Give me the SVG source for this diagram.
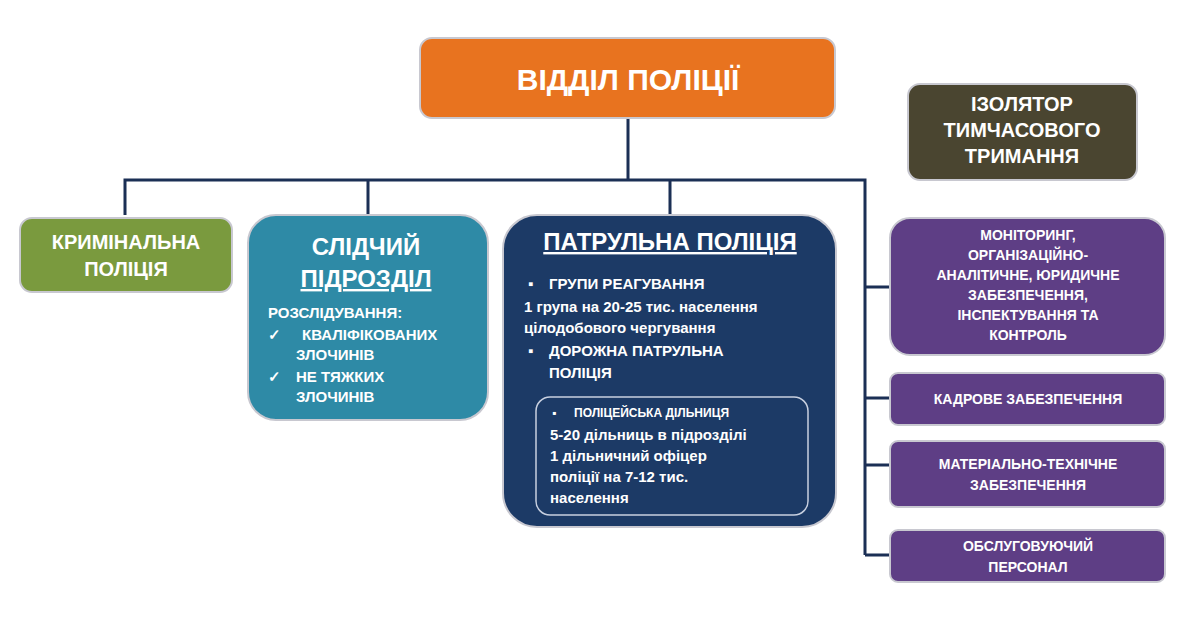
<svg xmlns="http://www.w3.org/2000/svg" width="1200" height="630" viewBox="0 0 1200 630">
<style>
text{font-family:"Liberation Sans",Arial,sans-serif;font-weight:bold;fill:#fff}
.c{text-anchor:middle}
.box{stroke:#c8c8d0;stroke-width:2}
.purple{fill:#5e3e85}
.ln{stroke:#1b2f55;stroke-width:3;fill:none}
</style>
<rect width="1200" height="630" fill="#fff"/>
<g id="connectors">
<path class="ln" d="M628 118V180M125 215V180H865V555M368 180V215M670 180V215M865 287H890M865 398H890M865 465H890M865 555H890"/>
</g>
<g id="top"><rect class="box" x="420" y="38" width="415" height="80" rx="12" fill="#e8731f"/>
<text class="c" x="628" y="90" font-size="30">ВІДДІЛ   ПОЛІЦІЇ</text></g>
<g id="krym"><rect class="box" x="20" y="218" width="212" height="74" rx="12" fill="#7a9a3e"/>
<text class="c" x="126" y="249" font-size="20">КРИМІНАЛЬНА</text><text class="c" x="126" y="276" font-size="20">ПОЛІЦІЯ</text></g>
<g id="slid"><rect class="box" x="248" y="215" width="240" height="205" rx="28" fill="#2e8aa6"/>
<text class="c" x="366" y="255" font-size="24">СЛІДЧИЙ</text>
<text class="c" x="366" y="287" font-size="24" text-decoration="underline">ПІДРОЗДІЛ</text>
<text x="268" y="318" font-size="15" font-weight="normal">РОЗСЛІДУВАННЯ:</text>
<text x="268" y="340" font-size="15" font-weight="normal">✓</text><text x="302" y="340" font-size="15" font-weight="normal">КВАЛІФІКОВАНИХ</text>
<text x="296" y="360" font-size="15" font-weight="normal">ЗЛОЧИНІВ</text>
<text x="268" y="382" font-size="15" font-weight="normal">✓</text><text x="296" y="382" font-size="15" font-weight="normal">НЕ ТЯЖКИХ</text>
<text x="296" y="402" font-size="15" font-weight="normal">ЗЛОЧИНІВ</text></g>
<g id="patrul"><rect class="box" x="503" y="215" width="333" height="312" rx="34" fill="#1c3a66"/>
<text class="c" x="670" y="250" font-size="24" text-decoration="underline">ПАТРУЛЬНА  ПОЛІЦІЯ</text>
<text x="528" y="289" font-size="15">▪</text><text x="549" y="289" font-size="15">ГРУПИ РЕАГУВАННЯ</text>
<text x="524" y="312" font-size="15">1 група на 20-25 тис. населення</text>
<text x="524" y="333" font-size="15">цілодобового чергування</text>
<text x="528" y="356" font-size="15">▪</text><text x="549" y="356" font-size="15">ДОРОЖНА ПАТРУЛЬНА</text>
<text x="549" y="378" font-size="15">ПОЛІЦІЯ</text>
<rect x="536" y="397" width="272" height="118" rx="14" fill="none" stroke="#c8d0e0" stroke-width="1.5"/>
<text x="552" y="417" font-size="12">▪</text><text x="574" y="417" font-size="12">ПОЛІЦЕЙСЬКА  ДІЛЬНИЦЯ</text>
<text x="550" y="440" font-size="15">5-20 дільниць в підрозділі</text>
<text x="550" y="461" font-size="15">1 дільничний офіцер</text>
<text x="550" y="482" font-size="15">поліції на 7-12 тис.</text>
<text x="550" y="503" font-size="15">населення</text></g>
<g id="izol"><rect class="box" x="908" y="84" width="229" height="96" rx="12" fill="#4a4530"/>
<text class="c" x="1022" y="111" font-size="20">ІЗОЛЯТОР</text><text class="c" x="1022" y="137" font-size="20">ТИМЧАСОВОГО</text><text class="c" x="1022" y="163" font-size="20">ТРИМАННЯ</text></g>
<g id="monitor"><rect class="box purple" x="890" y="218" width="275" height="137" rx="20"/>
<g font-size="14"><text class="c" x="1028" y="240">МОНІТОРИНГ,</text><text class="c" x="1028" y="260">ОРГАНІЗАЦІЙНО-</text><text class="c" x="1028" y="280">АНАЛІТИЧНЕ, ЮРИДИЧНЕ</text><text class="c" x="1028" y="300">ЗАБЕЗПЕЧЕННЯ,</text><text class="c" x="1028" y="320">ІНСПЕКТУВАННЯ ТА</text><text class="c" x="1028" y="340">КОНТРОЛЬ</text></g></g>
<g id="kadr"><rect class="box purple" x="890" y="373" width="275" height="52" rx="8"/>
<text class="c" x="1028" y="404" font-size="14">КАДРОВЕ ЗАБЕЗПЕЧЕННЯ</text></g>
<g id="mat"><rect class="box purple" x="890" y="441" width="275" height="66" rx="8"/>
<text class="c" x="1028" y="469" font-size="14">МАТЕРІАЛЬНО-ТЕХНІЧНЕ</text><text class="c" x="1028" y="490" font-size="14">ЗАБЕЗПЕЧЕННЯ</text></g>
<g id="obsl"><rect class="box purple" x="890" y="530" width="275" height="52" rx="8"/>
<text class="c" x="1028" y="551" font-size="14">ОБСЛУГОВУЮЧИЙ</text><text class="c" x="1028" y="572" font-size="14">ПЕРСОНАЛ</text></g>
</svg>
